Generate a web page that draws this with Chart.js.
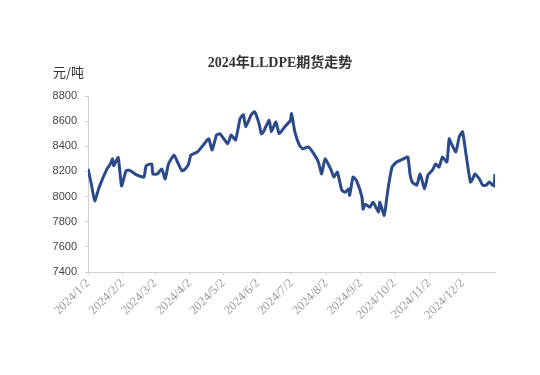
<!DOCTYPE html>
<html>
<head>
<meta charset="utf-8">
<script src="https://cdn.jsdelivr.net/npm/chart.js@4.4.1/dist/chart.umd.min.js"></script>
<style>
  html, body { margin: 0; padding: 0; background: #fff; }
  #wrap { width: 540px; height: 375px; }
</style>
</head>
<body>
<div id="wrap"><canvas id="myChart" width="540" height="375"></canvas></div>
<script>
const chartTitle = '2024年LLDPE期货走势';
const unitLabel = '元/吨';

// x tick labels (one per month)
const monthTicks = ['2024/1/2', '2024/2/2', '2024/3/2', '2024/4/2', '2024/5/2', '2024/6/2',
  '2024/7/2', '2024/8/2', '2024/9/2', '2024/10/2', '2024/11/2', '2024/12/2'];

// y ticks
const yMin = 7400;
const yMax = 8800;
const yStep = 200;

// series
const dates = ['2024/1/2', '2024/1/5', '2024/1/8', '2024/1/12', '2024/1/19', '2024/1/22', '2024/1/24', '2024/1/25',
  '2024/1/29', '2024/2/1', '2024/2/5', '2024/2/8', '2024/2/15', '2024/2/21', '2024/2/23', '2024/2/28',
  '2024/2/29', '2024/3/4', '2024/3/8', '2024/3/11', '2024/3/14', '2024/3/19', '2024/3/22', '2024/3/26',
  '2024/3/29', '2024/4/1', '2024/4/3', '2024/4/9', '2024/4/15', '2024/4/19', '2024/4/22', '2024/4/26',
  '2024/4/29', '2024/5/6', '2024/5/9', '2024/5/13', '2024/5/17', '2024/5/20', '2024/5/22', '2024/5/27',
  '2024/5/30', '2024/6/3', '2024/6/5', '2024/6/7', '2024/6/12', '2024/6/14', '2024/6/18', '2024/6/21',
  '2024/6/26', '2024/7/1', '2024/7/2', '2024/7/5', '2024/7/9', '2024/7/12', '2024/7/17', '2024/7/22',
  '2024/7/26', '2024/7/29', '2024/8/1', '2024/8/6', '2024/8/9', '2024/8/12', '2024/8/16', '2024/8/19',
  '2024/8/22', '2024/8/23', '2024/8/26', '2024/8/29', '2024/9/3', '2024/9/4', '2024/9/6', '2024/9/10',
  '2024/9/13', '2024/9/18', '2024/9/19', '2024/9/23', '2024/9/25', '2024/9/27', '2024/9/30', '2024/10/4',
  '2024/10/10', '2024/10/14', '2024/10/16', '2024/10/18', '2024/10/22', '2024/10/25', '2024/10/29', '2024/11/1',
  '2024/11/5', '2024/11/8', '2024/11/11', '2024/11/14', '2024/11/18', '2024/11/20', '2024/11/22', '2024/11/26',
  '2024/11/29', '2024/12/2', '2024/12/5', '2024/12/9', '2024/12/11', '2024/12/13', '2024/12/17', '2024/12/20',
  '2024/12/23', '2024/12/26', '2024/12/30', '2024/12/31'];
const prices = [8220, 8100, 7965, 8075, 8220, 8260, 8300, 8245,
  8310, 8085, 8205, 8210, 8170, 8155, 8245, 8260,
  8180, 8180, 8220, 8140, 8260, 8330, 8275, 8205,
  8220, 8260, 8330, 8355, 8420, 8460, 8370, 8490,
  8500, 8420, 8490, 8450, 8620, 8650, 8555, 8650,
  8675, 8580, 8500, 8515, 8610, 8515, 8595, 8500,
  8555, 8605, 8660, 8515, 8410, 8380, 8395, 8340,
  8275, 8180, 8300, 8220, 8155, 8195, 8050, 8035,
  8060, 8010, 8155, 8130, 7995, 7900, 7940, 7915,
  7955, 7875, 7955, 7850, 7975, 8100, 8235, 8275,
  8300, 8315, 8180, 8115, 8090, 8180, 8060, 8170,
  8210, 8260, 8235, 8315, 8275, 8460, 8420, 8355,
  8475, 8515, 8340, 8115, 8140, 8180, 8140, 8090,
  8090, 8115, 8085, 8180];

// days since the first label
function dayOf(s) {
    const [y, m, d] = s.split('/').map(Number);
    return (Date.UTC(y, m - 1, d) - Date.UTC(2024, 0, 2)) / 86400000;
}
const tickDays = monthTicks.map(dayOf);
const points = dates.map((d, i) => ({ x: dayOf(d), y: prices[i] }));

// title + unit text drawn on the canvas
const textPlugin = {
    id: 'textPlugin',
    afterDraw(chart) {
        const ctx = chart.ctx;
        ctx.save();
        ctx.fillStyle = '#333';
        ctx.textBaseline = 'middle';
        ctx.textAlign = 'center';
        ctx.font = 'bold 14px "Liberation Serif", "Noto Sans CJK SC", serif';
        ctx.fillText(chartTitle, 280, 63);
        ctx.textAlign = 'left';
        ctx.font = '13px "Noto Sans CJK SC", sans-serif';
        ctx.fillText(unitLabel, 53, 72);
        ctx.restore();
    }
};

const ctx = document.getElementById('myChart').getContext('2d');
const myChart = new Chart(ctx, {
    type: 'line',
    data: {
        datasets: [{
            data: points,
            borderColor: '#2b4a8b',
            borderWidth: 3,
            pointRadius: 0,
            tension: 0.15,
            fill: false
        }]
    },
    options: {
        responsive: false,
        animation: false,
        layout: { padding: { top: 96, right: 45, left: 0, bottom: 0 } },
        plugins: {
            legend: { display: false },
            tooltip: { enabled: false },
            title: { display: false }
        },
        scales: {
            x: {
                type: 'linear',
                min: 0,
                max: 364,
                afterBuildTicks: (scale) => {
                    scale.ticks = tickDays.map(v => ({ value: v }));
                },
                afterFit: (scale) => { scale.height = 103; },
                grid: { drawOnChartArea: false, color: '#d0d0d0', tickLength: 3 },
                border: { color: '#d0d0d0' },
                ticks: {
                    autoSkip: false,
                    minRotation: 45,
                    maxRotation: 45,
                    color: '#999',
                    padding: 1,
                    font: { family: '"Liberation Serif", serif', size: 12.5 },
                    callback: (v) => monthTicks[tickDays.indexOf(v)]
                }
            },
            y: {
                min: yMin,
                max: yMax,
                afterFit: (scale) => { scale.width = 88; },
                grid: { drawOnChartArea: false, color: '#d0d0d0', tickLength: 3 },
                border: { color: '#d0d0d0' },
                ticks: {
                    stepSize: yStep,
                    color: '#444',
                    padding: 8,
                    font: { family: '"Liberation Sans", Arial, sans-serif', size: 11 },
                    callback: (v) => String(v)
                }
            }
        }
    },
    plugins: [textPlugin]
});
</script>
</body>
</html>
